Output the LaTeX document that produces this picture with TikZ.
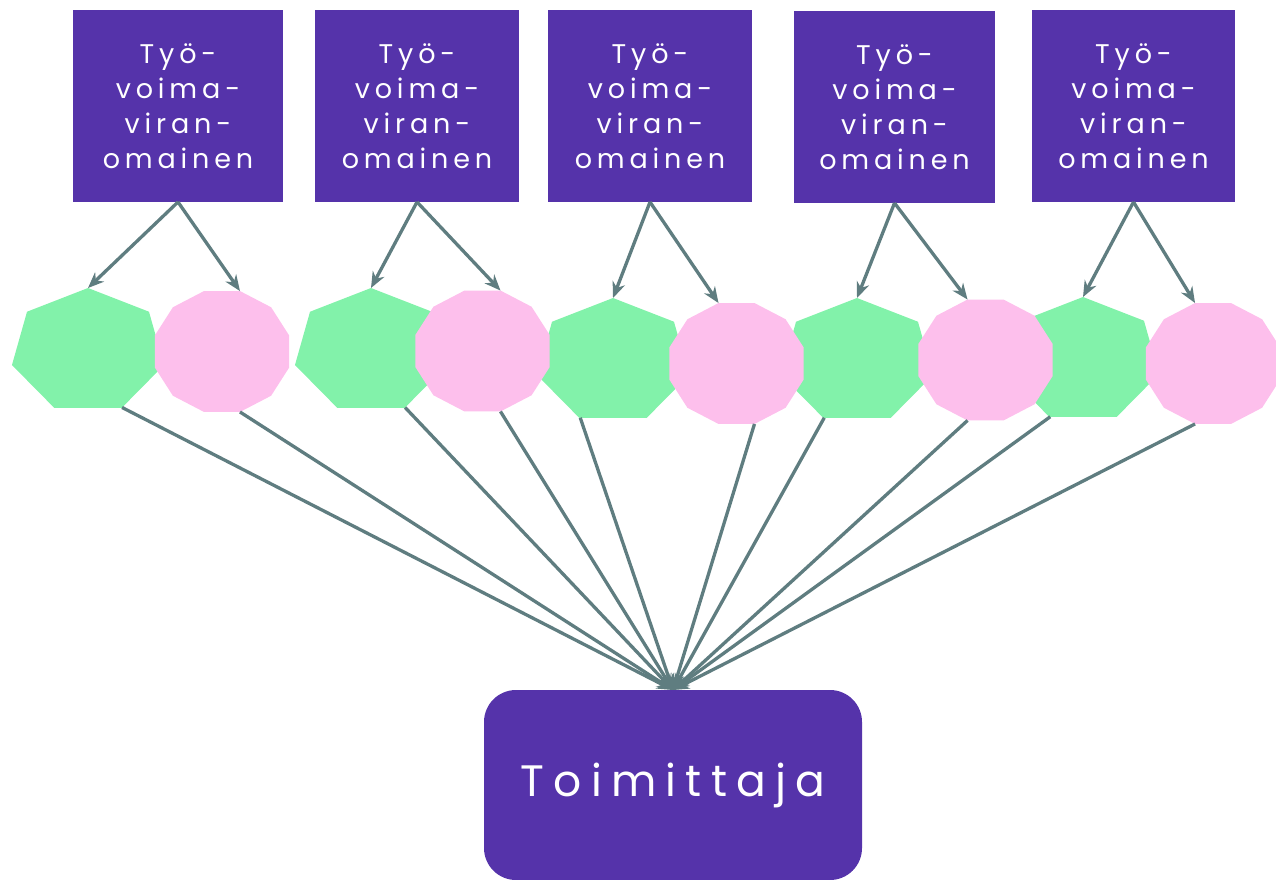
\documentclass[tikz,border=0pt]{standalone}
\usepackage{fontspec}
\usetikzlibrary{shapes.geometric,arrows.meta}
\newfontfamily\boxfont{Poppins}[LetterSpace=18]
\newfontfamily\bigfont{Poppins}[LetterSpace=21]
\definecolor{boxpurple}{HTML}{5533AA}
\definecolor{polygreen}{HTML}{82F2AA}
\definecolor{polypink}{HTML}{FDBFEC}
\definecolor{linkcol}{HTML}{5F7D80}
\begin{document}
\begin{tikzpicture}[x=1pt,y=-1pt,
  topbox/.style={fill=boxpurple, text=white, align=center,
    font=\boxfont\fontsize{27}{35}\selectfont,
    minimum height=192pt, inner sep=0pt, outer sep=0pt},
  bottombox/.style={fill=boxpurple, text=white, rounded corners=32pt,
    font=\bigfont\fontsize{44}{54}\selectfont,
    minimum width=378pt, minimum height=190pt, inner sep=0pt, outer sep=0pt},
  greenpoly/.style={regular polygon, regular polygon sides=7, minimum size=126pt,
    inner sep=0pt, outer sep=0pt, fill=polygreen, transform shape},
  pinkpoly/.style={regular polygon, regular polygon sides=12, minimum size=125.2pt,
    inner sep=0pt, outer sep=0pt, fill=polypink, transform shape},
  link/.style={draw=linkcol, line width=3.3pt, -{Stealth[length=16pt,width=13pt]}}]
\useasboundingbox (0,0) rectangle (1276,880);

% top boxes
\node[topbox, minimum width=210pt] (b1) at (178,106) {Työ-\\voima-\\viran-\\omainen};
\node[topbox, minimum width=204pt] (b2) at (417,106) {Työ-\\voima-\\viran-\\omainen};
\node[topbox, minimum width=204pt] (b3) at (650,106) {Työ-\\voima-\\viran-\\omainen};
\node[topbox, minimum width=201pt] (b4) at (894.5,107) {Työ-\\voima-\\viran-\\omainen};
\node[topbox, minimum width=203pt] (b5) at (1133.5,106) {Työ-\\voima-\\viran-\\omainen};

% green heptagons
\begin{scope}[shift={(88,351)}, xscale=1.238]
  \node[greenpoly] (g1) at (0,0) {};
\end{scope}
\begin{scope}[shift={(371,351)}, xscale=1.238]
  \node[greenpoly] (g2) at (0,0) {};
\end{scope}
\begin{scope}[shift={(613,361)}, xscale=1.238]
  \node[greenpoly] (g3) at (0,0) {};
\end{scope}
\begin{scope}[shift={(857,361)}, xscale=1.238]
  \node[greenpoly] (g4) at (0,0) {};
\end{scope}
\begin{scope}[shift={(1083,360)}, xscale=1.238]
  \node[greenpoly] (g5) at (0,0) {};
\end{scope}

% pink dodecagons
\begin{scope}[shift={(222,351.5)}, xscale=1.109]
  \node[pinkpoly] (p1) at (0,0) {};
\end{scope}
\begin{scope}[shift={(482.5,351)}, xscale=1.109]
  \node[pinkpoly] (p2) at (0,0) {};
\end{scope}
\begin{scope}[shift={(736.5,363.5)}, xscale=1.109]
  \node[pinkpoly] (p3) at (0,0) {};
\end{scope}
\begin{scope}[shift={(985.5,360)}, xscale=1.109]
  \node[pinkpoly] (p4) at (0,0) {};
\end{scope}
\begin{scope}[shift={(1213,363.5)}, xscale=1.109]
  \node[pinkpoly] (p5) at (0,0) {};
\end{scope}

% bottom box
\node[bottombox] (t) at (673,785) {Toimittaja};

% arrows from top boxes
\draw[link] (b1.south) -- (g1.90);
\draw[link] (b1.south) -- (p1.75);
\draw[link] (b2.south) -- (g2.90);
\draw[link] (b2.south) -- (p2.75);
\draw[link] (b3.south) -- (g3.90);
\draw[link] (b3.south) -- (p3.105);
\draw[link] (b4.south) -- (g4.90);
\draw[link] (b4.south) -- (p4.105);
\draw[link] (b5.south) -- (g5.90);
\draw[link] (b5.south) -- (p5.105);

% arrows to Toimittaja
\draw[link] (g1.-64.29) -- (t.north);
\draw[link] (p1.-75) -- (t.north);
\draw[link] (g2.-64.29) -- (t.north);
\draw[link] (p2.-75) -- (t.north);
\draw[link] (g3.-115.71) -- (t.north);
\draw[link] (p3.-75) -- (t.north);
\draw[link] (g4.-115.71) -- (t.north);
\draw[link] (p4.-105) -- (t.north);
\draw[link] (g5.-115.71) -- (t.north);
\draw[link] (p5.-105) -- (t.north);
\end{tikzpicture}
\end{document}
